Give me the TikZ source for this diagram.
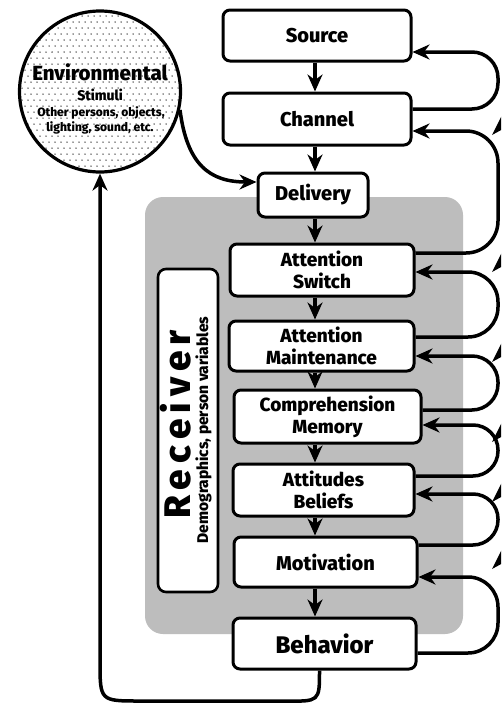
\documentclass[tikz,border=0pt]{standalone}
\usepackage{fontspec}
\setmainfont{Fira Sans}[BoldFont={Fira Sans ExtraBold}]
\usetikzlibrary{arrows.meta,calc}
\begin{document}
\begin{tikzpicture}[x=1pt,y=-1pt,
  box/.style={draw, line width=3pt, rounded corners=7pt, fill=white, align=center, inner sep=0pt,
    font=\bfseries\fontsize{19}{22}\selectfont},
  tip/.style={-{Stealth[length=17pt,width=15pt,inset=5.5pt]}},
  ln/.style={line width=3.5pt},
  barb/.style={fill=black},
]
\useasboundingbox (0,0) rectangle (501,704);
\fill[white] (0,0) rectangle (501,704);
\clip (0,0) rectangle (501,704);

% receiver region
\fill[black!26, rounded corners=18pt] (145,197) rectangle (463,634);
\node[draw, line width=2.6pt, fill=white, rounded corners=8pt, minimum width=60pt, minimum height=323pt, inner sep=0pt] (recv) at (188,430.5) {};
\node[rotate=90, anchor=base, inner sep=0pt, font=\bfseries\fontsize{37}{37}\selectfont] (rtitle) at (190,424.5)
  {R\hspace{6pt}e\hspace{6pt}c\hspace{6pt}e\hspace{6pt}i\hspace{6pt}v\hspace{6pt}e\hspace{6pt}r};
\node[rotate=90, anchor=base, inner sep=0pt, font=\bfseries\fontsize{15.5}{16}\selectfont] (rsub) at (208,430)
  {Demographics, person variables};

% environmental circle
\begin{scope}
  \clip (100,91.5) circle (81pt);
  \foreach \j in {0,...,28} {
    \foreach \i in {0,...,28} {
      \fill[black!80] ({19+\i*6+mod(\j,2)*3},{10+\j*6}) circle (0.75pt);
    }
  }
\end{scope}
\node[circle, draw, line width=3.2pt, minimum size=161pt, inner sep=0pt] (env) at (100,91.5) {};
\node[font=\bfseries\fontsize{20.5}{20}\selectfont, inner sep=0pt] (envt1) at (100,72) {Environmental};
\node[font=\bfseries\fontsize{14}{14}\selectfont, inner sep=0pt] (envt2) at (100,95) {Stimuli};
\node[font=\bfseries\fontsize{12}{12}\selectfont, inner sep=0pt] (envt3) at (101,113) {Other persons, objects,};
\node[font=\bfseries\fontsize{12}{12}\selectfont, inner sep=0pt] (envt4) at (100,128) {lighting, sound, etc.};

% boxes
\node[box, minimum width=188pt, minimum height=51pt, font=\bfseries\fontsize{20}{22}\selectfont] (source) at (317,35.5) {Source};
\node[box, minimum width=188pt, minimum height=52pt, font=\bfseries\fontsize{20}{22}\selectfont] (channel) at (317,119) {Channel};
\node[box, minimum width=110pt, minimum height=44pt, font=\bfseries\fontsize{20}{22}\selectfont] (delivery) at (313,195) {Delivery};
\node[box, minimum width=184pt, minimum height=52pt] (attsw) at (322,270) {Attention\\Switch};
\node[box, minimum width=185pt, minimum height=50pt] (attm) at (321.5,346) {Attention\\Maintenance};
\node[box, minimum width=187pt, minimum height=53pt] (comp) at (327.5,416.5) {Comprehension\\Memory};
\node[box, minimum width=181pt, minimum height=52pt] (attb) at (323.5,490) {Attitudes\\Beliefs};
\node[box, minimum width=183pt, minimum height=50pt, font=\bfseries\fontsize{20}{22}\selectfont] (motiv) at (325.5,562) {Motivation};
\node[box, minimum width=183pt, minimum height=51pt, font=\bfseries\fontsize{24}{26}\selectfont] (behav) at (324.5,643.5) {Behavior};

% main vertical arrows
\coordinate (col) at (315,0);
\foreach \a/\b in {source/channel, channel/delivery, delivery/attsw, attsw/attm, attm/comp, comp/attb, attb/motiv, motiv/behav} {
  \draw[ln, tip] (col |- \a.south) -- (col |- \b.north);
}

% feedback loops
\coordinate (rx) at (498,0);
\coordinate (sin) at ($(source.east)+(0,16.5)$);
\coordinate (cout) at ($(channel.east)+(0,-10)$);
\coordinate (cin) at ($(channel.east)+(0,12)$);
\coordinate (swout) at ($(attsw.east)+(0,-17)$);
\coordinate (swin) at ($(attsw.east)+(0,2)$);
\coordinate (mout) at ($(attm.east)+(0,-9)$);
\coordinate (min) at ($(attm.east)+(0,10)$);
\coordinate (coout) at ($(comp.east)+(0,-6.5)$);
\coordinate (coin) at ($(comp.east)+(0,8.5)$);
\coordinate (about) at ($(attb.east)+(0,-14)$);
\coordinate (abin) at ($(attb.east)+(0,4)$);
\coordinate (moout) at ($(motiv.east)+(0,-17)$);
\coordinate (moin) at ($(motiv.east)+(0,15)$);
\coordinate (beout) at ($(behav.east)+(0,9.5)$);

\draw[ln, tip, rounded corners=26pt] (cout) -| (rx |- sin) -- (sin);
\draw[ln, tip, rounded corners=32pt] (swout) -| (rx |- cin) -- (cin);
\draw[ln, tip, rounded corners=30pt] (mout) -| (rx |- swin) -- (swin);
\draw[ln, tip, rounded corners=26pt] (coout) -| (rx |- min) -- (min);
\draw[ln, tip, rounded corners=25pt] (about) -| (rx |- coin) -- (coin);
\draw[ln, tip, rounded corners=25pt] (moout) -| (rx |- abin) -- (abin);
\draw[ln, tip, rounded corners=30pt] (beout) -| (rx |- moin) -- (moin);

% partial arrowheads at right edge
\foreach \y in {113,250,340,420,480,547} {
  \fill[barb] (503,\y) -- (492,\y+22) -- (503,\y+16) -- cycle;
}

% environment to delivery
\draw[ln, tip] (env.-13) .. controls (187,165) and (210,182) .. ($(delivery.west)+(0,-13)$);
% behavior back to environment
\draw[ln, tip] ($(behav.south)+(-5,0)$) .. controls ($(behav.south)+(-5,31)$) .. (285,701) -- (140,701)
  .. controls (100,701) .. (100,661) -- (env.south);
\end{tikzpicture}
\end{document}
